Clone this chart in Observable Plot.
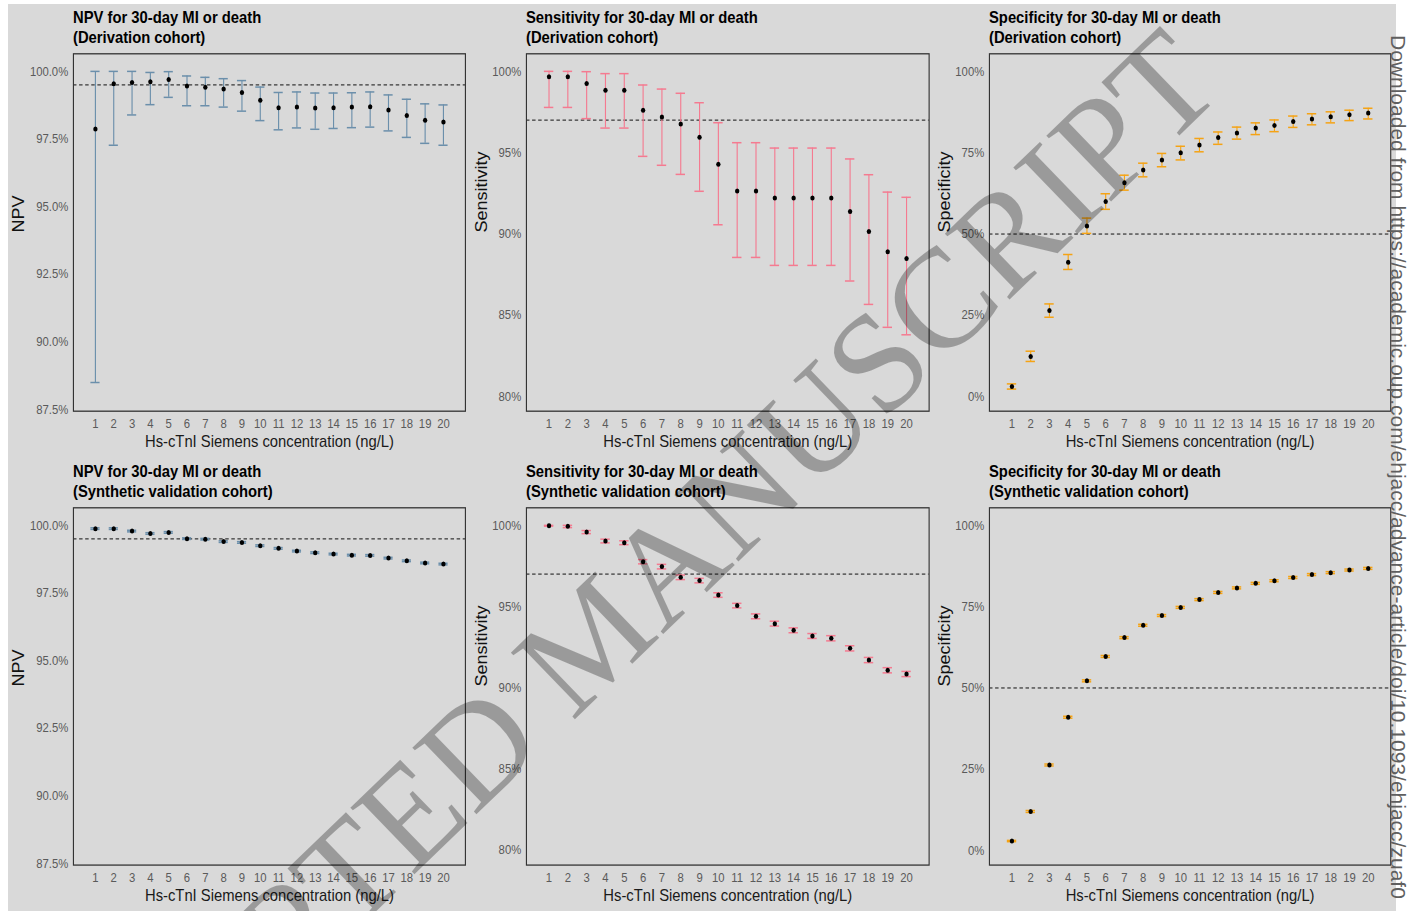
<!DOCTYPE html>
<html>
<head>
<meta charset="utf-8">
<script src="https://cdn.jsdelivr.net/npm/d3@7"></script>
<script src="https://cdn.jsdelivr.net/npm/@observablehq/plot@0.6"></script>
<style>
  html, body { margin: 0; padding: 0; background: #ffffff; }
  #page { position: relative; width: 1416px; height: 911px; overflow: hidden; background: #ffffff; }
  #bg { position: absolute; left: 8px; top: 4px; width: 1388px; height: 907px; background: #d9d9d9; }
  .wrap { position: absolute; transform-origin: 0 0; }
  .ttl { position: absolute; font-family: "Liberation Sans", Arial, sans-serif; font-weight: bold; font-size: 17px; line-height: 20px; color: #000; white-space: nowrap; }
  .wrap svg { position: absolute; overflow: visible; }
</style>
</head>
<body>
<div id="page"><div id="bg"></div></div>
<script>
// ---------------- data ----------------
const thresholds = [1,2,3,4,5,6,7,8,9,10,11,12,13,14,15,16,17,18,19,20];
const xLabel = "Hs-cTnI Siemens concentration (ng/L)";

// Derivation cohort
const derivNpv   = [97.87,99.54,99.59,99.62,99.70,99.46,99.41,99.35,99.22,98.93,98.66,98.68,98.65,98.66,98.68,98.69,98.57,98.37,98.19,98.13];
const derivNpvLo = [88.50,97.27,98.39,98.77,99.04,98.73,98.73,98.68,98.53,98.18,97.84,97.91,97.86,97.89,97.92,97.94,97.80,97.56,97.34,97.27];
const derivNpvHi = [100.0,100.0,100.0,99.96,99.99,99.83,99.78,99.73,99.66,99.42,99.22,99.24,99.20,99.20,99.21,99.24,99.13,98.97,98.80,98.76];

const derivSens   = [99.67,99.67,99.26,98.83,98.83,97.60,97.19,96.76,95.94,94.28,92.64,92.64,92.21,92.21,92.21,92.21,91.38,90.15,88.90,88.49];
const derivSensLo = [97.78,97.78,97.09,96.51,96.51,94.77,94.22,93.66,92.62,90.56,88.55,88.55,88.06,88.06,88.06,88.06,87.10,85.66,84.25,83.79];
const derivSensHi = [100.0,100.0,99.98,99.86,99.86,99.16,98.91,98.65,98.07,96.84,95.61,95.61,95.28,95.28,95.28,95.28,94.61,93.64,92.57,92.25];

const derivSpec   = [3.08,12.3,26.5,41.3,52.5,60.0,65.8,69.7,72.8,75.0,77.4,79.7,81.1,82.6,83.4,84.6,85.4,86.1,86.7,87.2];
const derivSpecLo = [2.3,10.8,24.4,39.1,50.2,57.6,63.5,67.6,70.7,72.8,75.3,77.6,79.2,80.6,81.5,82.8,83.6,84.2,84.9,85.4];
const derivSpecHi = [3.9,13.95,28.5,43.7,54.9,62.4,68.1,71.8,74.8,77.0,79.4,81.4,82.9,84.2,85.1,86.3,87.0,87.6,88.1,88.7];

// Synthetic validation cohort
const synNpv   = [99.88,99.88,99.79,99.70,99.74,99.51,99.49,99.40,99.37,99.25,99.15,99.05,98.99,98.94,98.90,98.89,98.79,98.69,98.61,98.57];
const synNpvLo = [99.85,99.85,99.76,99.67,99.71,99.48,99.46,99.37,99.34,99.22,99.12,99.02,98.96,98.91,98.87,98.86,98.76,98.66,98.58,98.54];
const synNpvHi = [99.91,99.91,99.82,99.73,99.77,99.54,99.52,99.43,99.40,99.28,99.18,99.08,99.02,98.97,98.93,98.92,98.82,98.72,98.64,98.60];

const synSens   = [99.98,99.94,99.59,99.04,98.93,97.76,97.46,96.80,96.60,95.71,95.06,94.40,93.95,93.54,93.19,93.05,92.43,91.71,91.08,90.85];
const synSensLo = [99.95,99.86,99.49,98.92,98.81,97.63,97.32,96.66,96.46,95.57,94.92,94.25,93.80,93.39,93.04,92.89,92.27,91.55,90.92,90.69];
const synSensHi = [100.0,100.0,99.68,99.15,99.05,97.89,97.60,96.94,96.74,95.85,95.20,94.55,94.10,93.69,93.34,93.21,92.59,91.87,91.24,91.01];

const synSpec   = [2.9,12.0,26.3,41.0,52.2,59.7,65.5,69.3,72.3,74.8,77.2,79.4,80.8,82.2,83.0,84.0,84.9,85.5,86.3,86.8];
const synSpecLo = [2.7,11.7,26.0,40.7,51.9,59.4,65.2,69.0,72.0,74.5,76.9,79.1,80.5,81.9,82.7,83.7,84.6,85.2,86.0,86.5];
const synSpecHi = [3.1,12.3,26.6,41.3,52.5,60.0,65.8,69.6,72.6,75.1,77.5,79.7,81.1,82.5,83.3,84.3,85.2,85.8,86.6,87.1];

// axes
const npvTicks  = [87.5, 90, 92.5, 95, 97.5, 100];
const sensTicks = [80, 85, 90, 95, 100];
const specTicks = [0, 25, 50, 75, 100];
const npvTarget = 99.5, sensTarget = 97, specTarget = 50;

// ---------------- layout ----------------
const S = 0.87; // horizontal squeeze of the original figure
const cols = [{fl: 73.3, fw: 392, yt: 54}, {fl: 526, fw: 402.7, yt: 44}, {fl: 989, fw: 401.3, yt: 44}];
const rows = [{ft: 53.3, fh: 357.4}, {ft: 507.7, fh: 357.3}];
const ML = 70, MR = 6, MT = 5.3, MB = 45;

function panel(o) {
  const c = cols[o.col], r = rows[o.row];
  const data = thresholds.map((t, i) => ({t, v: o.v[i], lo: o.lo[i], hi: o.hi[i]}));
  const wU = (ML + c.fw + MR) / S;
  const wrap = document.createElement("div");
  wrap.className = "wrap";
  wrap.style.left = (c.fl - ML) + "px";
  wrap.style.top = (r.ft - 53.3) + "px";
  wrap.style.width = wU + "px";
  wrap.style.height = "460px";
  wrap.style.transform = `scaleX(${S})`;
  const t = document.createElement("div");
  t.className = "ttl";
  t.style.left = (ML / S) + "px";
  t.style.top = "8.1px";
  t.innerHTML = o.title.map(s => `<div>${s}</div>`).join("");
  wrap.appendChild(t);

  const chart = Plot.plot({
    width: wU,
    height: MT + r.fh + MB,
    marginLeft: ML / S,
    marginRight: MR / S,
    marginTop: MT,
    marginBottom: MB,
    style: {background: "transparent", fontFamily: "'Liberation Sans', Arial, sans-serif", fontSize: "13px", color: "#5a5a5a", overflow: "visible"},
    x: {domain: [-0.2, 21.2], ticks: thresholds, tickFormat: d => String(d), tickSize: 0, tickPadding: 8, label: null},
    y: {domain: o.yDomain, ticks: o.yTicks, tickFormat: o.yFmt, tickSize: 0, tickPadding: 6, label: null},
    marks: [
      Plot.ruleY([o.target], {stroke: "#000", strokeWidth: 1, strokeDasharray: "4,3"}),
      Plot.ruleX(data, {x: "t", y1: "lo", y2: "hi", stroke: o.color, strokeWidth: 1.3}),
      Plot.ruleY(data, {y: "lo", x1: d => d.t - 0.25, x2: d => d.t + 0.25, stroke: o.color, strokeWidth: 1.5}),
      Plot.ruleY(data, {y: "hi", x1: d => d.t - 0.25, x2: d => d.t + 0.25, stroke: o.color, strokeWidth: 1.5}),
      Plot.dot(data, {x: "t", y: "v", r: 2.5, fill: "#000", stroke: "none"}),
      Plot.frame({stroke: "#333", strokeWidth: 1.3}),
      Plot.text([xLabel], {text: d => d, frameAnchor: "bottom", dy: 36, lineAnchor: "bottom", fontSize: 17, fill: "#1a1a1a"}),
      Plot.text([o.ylab], {text: d => d, frameAnchor: "left", dx: -c.yt / S, rotate: -90, fontSize: 18, fill: "#111"})
    ]
  });
  chart.style.left = "0px";
  chart.style.top = "48px";
  chart.style.maxWidth = "none";
  wrap.appendChild(chart);
  document.getElementById("page").appendChild(wrap);
}

const fmtNpv = d => d.toFixed(1) + "%";
const fmtPct = d => d + "%";
const npvDom = [87.44, 100.65], sensDom = [79.09, 101.08], specDom = [-4.5, 105.45];
const blue = "#6b8fab", pink = "#f57a90", orange = "#f5a314";

panel({col: 0, row: 0, title: ["NPV for 30-day MI or death", "(Derivation cohort)"], ylab: "NPV", color: blue, yDomain: npvDom, yTicks: npvTicks, yFmt: fmtNpv, target: npvTarget, v: derivNpv, lo: derivNpvLo, hi: derivNpvHi});
panel({col: 1, row: 0, title: ["Sensitivity for 30-day MI or death", "(Derivation cohort)"], ylab: "Sensitivity", color: pink, yDomain: sensDom, yTicks: sensTicks, yFmt: fmtPct, target: sensTarget, v: derivSens, lo: derivSensLo, hi: derivSensHi});
panel({col: 2, row: 0, title: ["Specificity for 30-day MI or death", "(Derivation cohort)"], ylab: "Specificity", color: orange, yDomain: specDom, yTicks: specTicks, yFmt: fmtPct, target: specTarget, v: derivSpec, lo: derivSpecLo, hi: derivSpecHi});
panel({col: 0, row: 1, title: ["NPV for 30-day MI or death", "(Synthetic validation cohort)"], ylab: "NPV", color: blue, yDomain: npvDom, yTicks: npvTicks, yFmt: fmtNpv, target: npvTarget, v: synNpv, lo: synNpvLo, hi: synNpvHi});
panel({col: 1, row: 1, title: ["Sensitivity for 30-day MI or death", "(Synthetic validation cohort)"], ylab: "Sensitivity", color: pink, yDomain: sensDom, yTicks: sensTicks, yFmt: fmtPct, target: sensTarget, v: synSens, lo: synSensLo, hi: synSensHi});
panel({col: 2, row: 1, title: ["Specificity for 30-day MI or death", "(Synthetic validation cohort)"], ylab: "Specificity", color: orange, yDomain: specDom, yTicks: specTicks, yFmt: fmtPct, target: specTarget, v: synSpec, lo: synSpecLo, hi: synSpecHi});

// ---------------- overlays (watermark + download stamp) ----------------
const ov = d3.select("#page").append("svg")
  .attr("width", 1416).attr("height", 911)
  .style("position", "absolute").style("left", "0px").style("top", "0px").style("pointer-events", "none");
const wm = ov.append("g").attr("transform", "translate(572,722) rotate(-44)")
  .attr("font-family", "'Liberation Serif', 'Times New Roman', serif").attr("font-size", 141)
  .attr("fill", "#000").attr("fill-opacity", 0.29);
wm.append("text").text("MANUSCRIPT");
wm.append("text").attr("x", -35).attr("text-anchor", "end").text("ACCEPTED");
ov.append("text")
  .attr("transform", "translate(1391,35) rotate(90)")
  .attr("font-family", "'Liberation Sans', Arial, sans-serif").attr("font-size", 21)
  .attr("fill", "#5f5f5f")
  .text("Downloaded from https://academic.oup.com/ehjacc/advance-article/doi/10.1093/ehjacc/zuaf0");
</script>
</body>
</html>
